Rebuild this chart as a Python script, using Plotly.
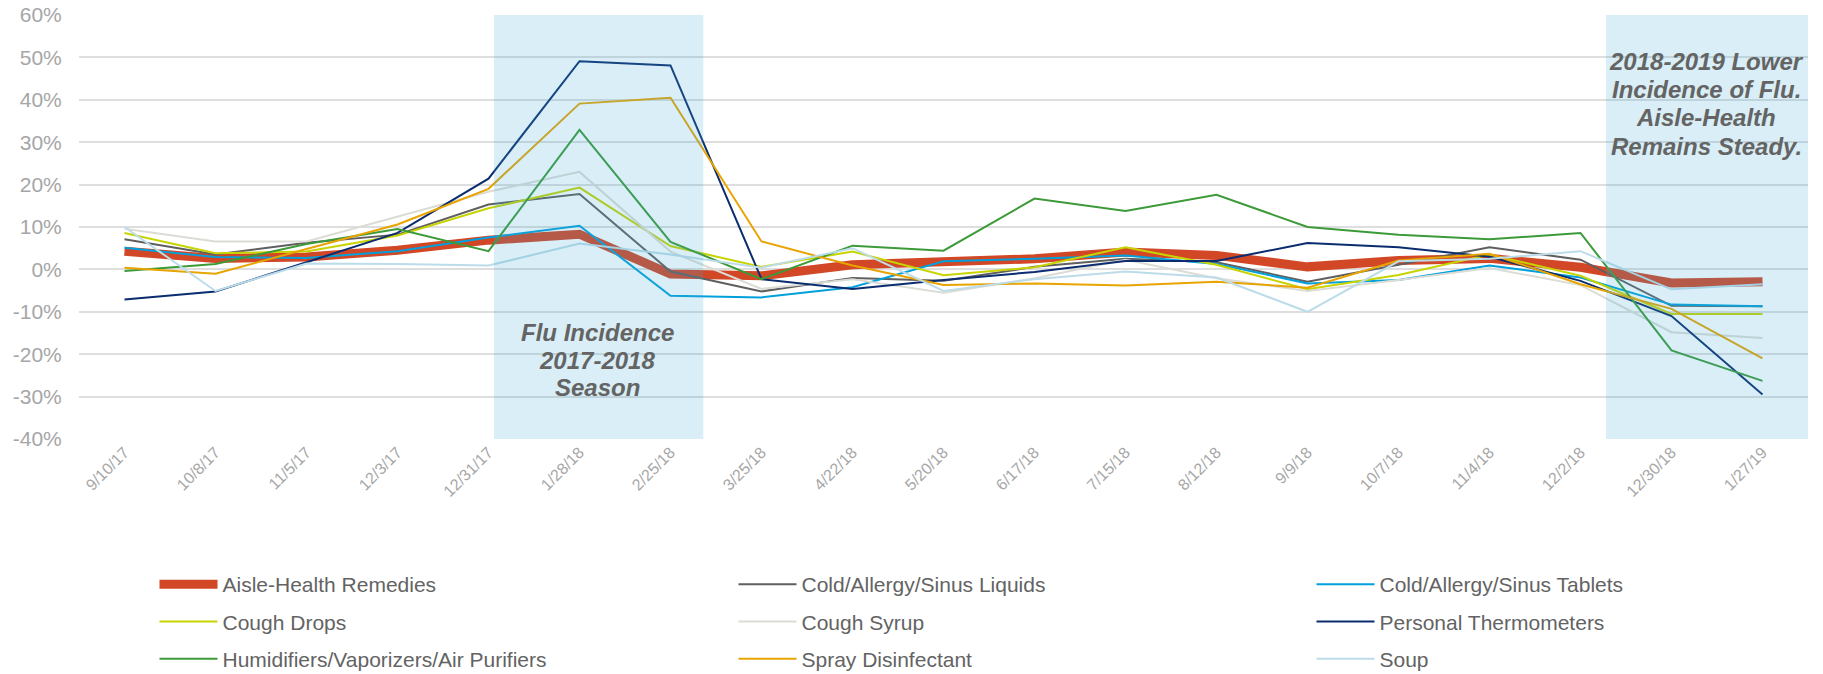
import plotly.graph_objects as go

# Week-ending dates (4-week periods)
periods = ["9/10/17", "10/8/17", "11/5/17", "12/3/17", "12/31/17", "1/28/18", "2/25/18",
           "3/25/18", "4/22/18", "5/20/18", "6/17/18", "7/15/18", "8/12/18", "9/9/18",
           "10/7/18", "11/4/18", "12/2/18", "12/30/18", "1/27/19"]

# Year-over-year change, percent
aisle_health = [4.3, 2.6, 2.9, 4.5, 6.9, 8.3, -1.1, -1.5, 1.1, 1.6, 2.5, 4.1, 3.3, 0.6, 2.1, 2.6, 0.5, -3.2, -2.9]
cold_liquids = [7.1, 3.5, 6.3, 8.2, 15.3, 17.8, -0.5, -5.2, -2.0, -2.7, 0.6, 2.5, 1.7, -2.9, 1.1, 5.2, 2.3, -8.6, -8.7]
cold_tablets = [5.1, 2.9, 2.7, 4.3, 7.5, 10.3, -6.2, -6.6, -4.2, 1.9, 2.5, 3.3, 1.3, -3.3, -2.5, 0.9, -1.9, -8.3, -8.7]
cough_drops = [8.6, 3.8, 4.2, 8.0, 14.4, 19.3, 5.5, 0.6, 4.2, -1.4, 0.5, 5.2, 1.1, -4.7, -1.3, 3.5, -1.5, -10.5, -10.5]
cough_syrup = [9.6, 6.6, 6.6, 12.5, 18.3, 23.0, 4.2, -4.6, -2.3, -5.5, -2.1, 2.3, -2.1, -5.1, -2.5, 0.3, -3.7, -14.8, -16.2]
thermometers = [-7.1, -5.2, 1.7, 8.6, 21.4, 49.1, 48.1, -2.3, -4.6, -2.5, -0.6, 2.0, 2.0, 6.2, 5.2, 3.0, -2.7, -11.0, -29.5]
humidifiers = [-0.4, 1.3, 6.0, 9.5, 4.3, 32.9, 6.5, -2.3, 5.6, 4.4, 16.7, 13.8, 17.6, 10.0, 8.2, 7.1, 8.6, -19.1, -26.3]
spray_disinfectant = [0.4, -1.0, 4.8, 10.6, 19.0, 39.1, 40.5, 6.6, 0.9, -3.7, -3.3, -3.8, -2.9, -4.3, 2.1, 3.7, -3.5, -9.3, -21.0]
soup = [10.0, -5.1, 1.4, 1.3, 0.9, 6.1, 3.5, 0.4, 5.0, -5.1, -2.3, -0.5, -1.9, -10.0, 1.9, 2.5, 4.3, -4.7, -3.5]

y_ticks = [-40, -30, -20, -10, 0, 10, 20, 30, 40, 50, 60]
y_tick_labels = [f"{v}%" for v in y_ticks]

# (name, values, colour, width, legend column)
series = [
    ("Aisle-Health Remedies", aisle_health, "#D24726", 9, "legend"),
    ("Cold/Allergy/Sinus Liquids", cold_liquids, "#5F5F5F", 2, "legend2"),
    ("Cold/Allergy/Sinus Tablets", cold_tablets, "#00A0DC", 2, "legend3"),
    ("Cough Drops", cough_drops, "#C8D400", 2, "legend"),
    ("Cough Syrup", cough_syrup, "#DCDCD6", 2, "legend2"),
    ("Personal Thermometers", thermometers, "#0B2C6E", 2, "legend3"),
    ("Humidifiers/Vaporizers/Air Purifiers", humidifiers, "#3C9A38", 2, "legend"),
    ("Spray Disinfectant", spray_disinfectant, "#E8A400", 2, "legend2"),
    ("Soup", soup, "#BCDCEA", 2, "legend3"),
]

fig = go.Figure()
for name, vals, color, width, leg in series:
    fig.add_trace(go.Scatter(
        x=periods, y=vals, name=name, mode="lines",
        line=dict(color=color, width=width),
        legend=leg, legendgroup=name,
    ))

FONT = "Liberation Sans, Arial, sans-serif"

W, H = 1823, 674
L, R, T, B = 79, 15, 15, 235
pw, ph = W - L - R, H - T - B


def px(x):
    return (x - L) / pw


def py(y):
    return (H - B - y) / ph


# Flu-season bands, drawn as translucent overlays
band_fill = "rgba(65,170,210,0.2)"
for x0, x1 in [(4.06, 6.36), (16.28, 18.5)]:
    fig.add_shape(type="rect", xref="x", yref="y", x0=x0, x1=x1, y0=-40, y1=60,
                  fillcolor=band_fill, line=dict(width=0), layer="above")

# Callout text, one line per annotation for tight leading
note_font = dict(family=FONT, size=24, color="#646464")
notes = [
    (px(597), [(332, "Flu Incidence"), (360, "2017-2018"), (387, "Season")]),
    (px(1706), [(62, "2018-2019 Lower"), (89, "Incidence of Flu."),
                (117, "Aisle-Health"), (146, "Remains Steady.")]),
]
for xc, lines in notes:
    for yc, txt in lines:
        fig.add_annotation(xref="paper", yref="paper", x=xc, y=py(yc),
                           text=f"<b><i>{txt}</i></b>", showarrow=False,
                           xanchor="center", yanchor="middle", font=note_font)

legend_common = dict(
    orientation="v", yanchor="top", xanchor="left",
    font=dict(family=FONT, size=21, color="#636363"),
    bgcolor="rgba(0,0,0,0)", itemwidth=58, tracegroupgap=7,
    itemclick=False, itemdoubleclick=False,
)

fig.update_layout(
    width=W, height=H,
    margin=dict(l=L, r=R, t=T, b=B, autoexpand=False),
    paper_bgcolor="white", plot_bgcolor="white",
    showlegend=True,
    legend=dict(legend_common, x=px(154.5), y=py(564)),
    legend2=dict(legend_common, x=px(733.5), y=py(564)),
    legend3=dict(legend_common, x=px(1311.5), y=py(564)),
    xaxis=dict(
        type="category", range=[-0.5, 18.5], showgrid=False, zeroline=False,
        showline=False, tickangle=-45, ticks="", automargin=False,
        tickfont=dict(family=FONT, size=16, color="#A6A6A6"),
    ),
    yaxis=dict(
        range=[-40, 60], tickmode="array", tickvals=y_ticks, ticktext=y_tick_labels,
        showgrid=True, gridcolor="#DEDEDE", gridwidth=1.5,
        zeroline=False, showline=False, automargin=False,
        ticks="outside", ticklen=12, tickcolor="rgba(0,0,0,0)",
        tickfont=dict(family=FONT, size=21, color="#A6A6A6"),
    ),
)

fig.write_html("out.html")
